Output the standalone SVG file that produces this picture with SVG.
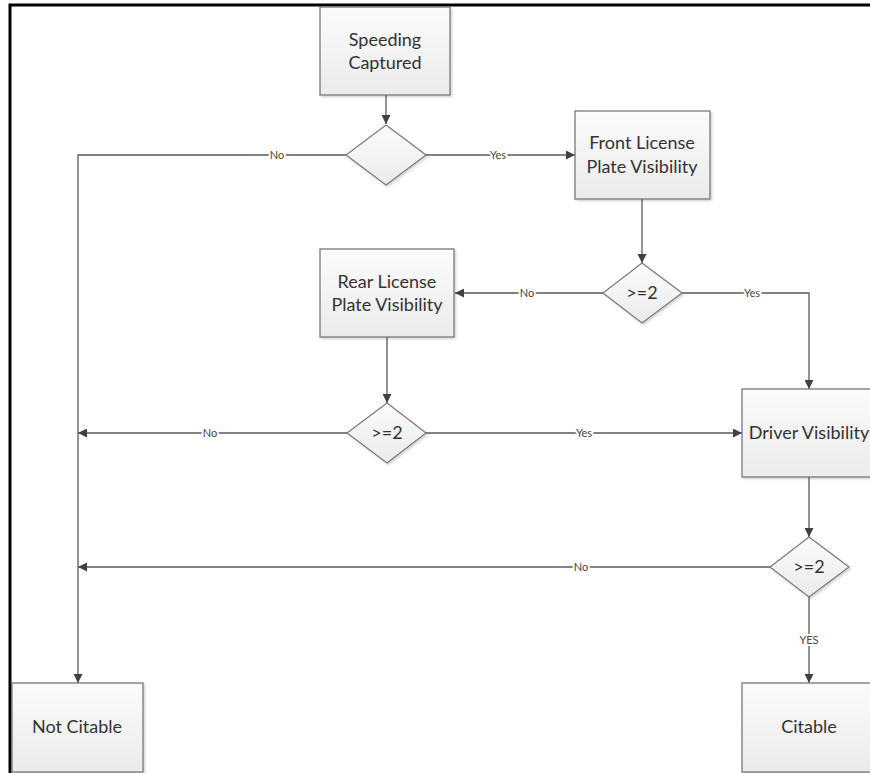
<svg xmlns="http://www.w3.org/2000/svg" width="870" height="773" viewBox="0 0 870 773">
<defs>
<linearGradient id="boxFill" x1="0" y1="0" x2="0" y2="1">
<stop offset="0" stop-color="#fbfbfb"/>
<stop offset="1" stop-color="#ebebeb"/>
</linearGradient>
<marker id="arr" viewBox="0 0 10 10" refX="10" refY="5" markerWidth="9" markerHeight="9" markerUnits="userSpaceOnUse" orient="auto">
<path d="M0,0 L10,5 L0,10 z" fill="#404040"/>
</marker>
<filter id="sh" x="-10%" y="-10%" width="130%" height="130%">
<feDropShadow dx="1.5" dy="1.5" stdDeviation="1.2" flood-color="#000" flood-opacity="0.18"/>
</filter>
</defs>
<style>
.box{fill:url(#boxFill);stroke:#6e6e6e;stroke-width:1.2;filter:url(#sh)}
.dia{fill:url(#boxFill);stroke:#7a7a7a;stroke-width:1.2;filter:url(#sh)}
.t{font-family:Lato,"Open Sans","Liberation Sans",sans-serif;font-size:18px;fill:#333;text-anchor:middle}
.c{fill:none;stroke:#595959;stroke-width:1.3}
.lbl{font-family:Lato,"Open Sans","Liberation Sans",sans-serif;font-size:11px;fill:#444;text-anchor:middle;stroke:#fff;stroke-width:4;paint-order:stroke}
.frame{stroke:#000;stroke-width:3;fill:none}
</style>
<rect width="870" height="773" fill="#fff"/>
<path class="frame" d="M10,773 V5 H870"/>

<g id="connectors">
<path class="c" d="M386,95 V124" marker-end="url(#arr)"/>
<path class="c" d="M426,155 H575" marker-end="url(#arr)"/>
<path class="c" d="M346,155 H78 V683" marker-end="url(#arr)"/>
<path class="c" d="M642,199 V263" marker-end="url(#arr)"/>
<path class="c" d="M603,293 H455" marker-end="url(#arr)"/>
<path class="c" d="M682,293 H809 V389" marker-end="url(#arr)"/>
<path class="c" d="M387,337 V403" marker-end="url(#arr)"/>
<path class="c" d="M347,433 H78" marker-end="url(#arr)"/>
<path class="c" d="M426,433 H742" marker-end="url(#arr)"/>
<path class="c" d="M809,477 V537" marker-end="url(#arr)"/>
<path class="c" d="M770,567 H78" marker-end="url(#arr)"/>
<path class="c" d="M809,597 V683" marker-end="url(#arr)"/>
<text class="lbl" x="277" y="159">No</text>
<text class="lbl" x="498" y="159">Yes</text>
<text class="lbl" x="527" y="297">No</text>
<text class="lbl" x="752" y="297">Yes</text>
<text class="lbl" x="210" y="437">No</text>
<text class="lbl" x="584" y="437">Yes</text>
<text class="lbl" x="581" y="571">No</text>
<text class="lbl" x="809" y="644">YES</text>
</g>

<g id="speeding">
<rect class="box" x="320" y="7" width="130" height="88"/>
<text class="t" x="385" y="46">Speeding</text>
<text class="t" x="385" y="69">Captured</text>
</g>
<g id="d1">
<polygon class="dia" points="386,125 426,155 386,185 346,155"/>
</g>
<g id="front">
<rect class="box" x="575" y="111" width="135" height="88"/>
<text class="t" x="642" y="149">Front License</text>
<text class="t" x="642" y="173">Plate Visibility</text>
</g>
<g id="d2">
<polygon class="dia" points="642,263 682,293 642,323 603,293"/>
<text class="t" x="642" y="299">&gt;=2</text>
</g>
<g id="rear">
<rect class="box" x="320" y="249" width="134" height="88"/>
<text class="t" x="387" y="288">Rear License</text>
<text class="t" x="387" y="311">Plate Visibility</text>
</g>
<g id="d3">
<polygon class="dia" points="387,403 426,433 387,463 347,433"/>
<text class="t" x="387" y="439">&gt;=2</text>
</g>
<g id="driver">
<rect class="box" x="742" y="389" width="134" height="88"/>
<text class="t" x="809" y="439">Driver Visibility</text>
</g>
<g id="d4">
<polygon class="dia" points="809,537 849,567 809,597 770,567"/>
<text class="t" x="809" y="573">&gt;=2</text>
</g>
<g id="notcitable">
<rect class="box" x="12" y="683" width="131" height="89"/>
<text class="t" x="77" y="733">Not Citable</text>
</g>
<g id="citable">
<rect class="box" x="742" y="683" width="134" height="89"/>
<text class="t" x="809" y="733">Citable</text>
</g>
</svg>
